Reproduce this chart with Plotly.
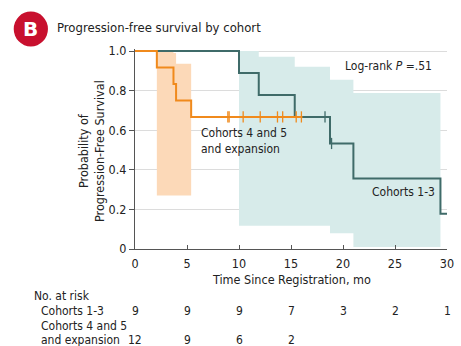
import plotly.graph_objects as go

# ---------------- data ----------------
months = [0, 5, 10, 15, 20, 25, 30]
y_ticks = [0, 0.2, 0.4, 0.6, 0.8, 1.0]
y_tick_labels = ["0", "0.2", "0.4", "0.6", "0.8", "1.0"]

# Cohorts 4 and 5 and expansion (orange)
c45_time = [0, 2.1, 3.7, 3.95, 5.4, 16.1]
c45_surv = [1.0, 0.917, 0.833, 0.75, 0.667, 0.667]
c45_cens_time = [8.93, 9.05, 10.4, 12.04, 13.7, 14.2, 15.5, 16.0]
c45_cens_surv = [0.667] * 8
c45_ci_time = [2.1, 3.7, 3.95, 5.4]
c45_ci_upper = [1.0, 0.99, 0.935, 0.935]
c45_ci_lower = [0.27, 0.27, 0.27, 0.27]

# Cohorts 1-3 (teal)
c13_time = [0, 10.0, 11.9, 15.36, 18.75, 21.0, 29.37, 30]
c13_surv = [1.0, 0.889, 0.778, 0.667, 0.533, 0.356, 0.178, 0.178]
c13_cens_time = [18.27, 18.9]
c13_cens_surv = [0.667, 0.533]
c13_ci_time = [10.0, 11.9, 15.36, 18.75, 21.0, 29.37]
c13_ci_upper = [1.0, 0.971, 0.921, 0.855, 0.788, 0.788]
c13_ci_lower = [0.117, 0.117, 0.117, 0.08, 0.01, 0.01]

risk_c13 = [9, 9, 9, 7, 3, 2, 1]
risk_c45 = [12, 9, 6, 2]

# ---------------- style ----------------
ORANGE = "#f08a1c"
ORANGE_BAND = "#fcd9b8"
TEAL = "#3f6b69"
TEAL_BAND = "#d7ebea"
TXT = "#222222"
FONT = "Liberation Sans Narrow, DejaVu Sans Condensed, Open Sans, sans-serif"

W, H = 461, 346
L, R, T, B = 135, 7, 49, 97
PW, PH = W - L - R, H - T - B


def px(x):
    return (x - L) / PW


def py(y):
    return (H - B - y) / PH


fig = go.Figure()

# confidence bands
fig.add_trace(go.Scatter(x=c13_ci_time, y=c13_ci_lower, mode="lines", line=dict(width=0, shape="hv"),
                         showlegend=False, hoverinfo="skip"))
fig.add_trace(go.Scatter(x=c13_ci_time, y=c13_ci_upper, mode="lines", line=dict(width=0, shape="hv"),
                         fill="tonexty", fillcolor=TEAL_BAND, showlegend=False, hoverinfo="skip"))
fig.add_trace(go.Scatter(x=c45_ci_time, y=c45_ci_lower, mode="lines", line=dict(width=0, shape="hv"),
                         showlegend=False, hoverinfo="skip"))
fig.add_trace(go.Scatter(x=c45_ci_time, y=c45_ci_upper, mode="lines", line=dict(width=0, shape="hv"),
                         fill="tonexty", fillcolor=ORANGE_BAND, showlegend=False, hoverinfo="skip"))

# KM curves
fig.add_trace(go.Scatter(x=c13_time, y=c13_surv, mode="lines", line=dict(color=TEAL, width=2, shape="hv"),
                         showlegend=False))
fig.add_trace(go.Scatter(x=c13_cens_time, y=c13_cens_surv, mode="markers",
                         marker=dict(symbol="line-ns", size=8, line=dict(color=TEAL, width=1.3)),
                         showlegend=False, cliponaxis=False))
fig.add_trace(go.Scatter(x=c45_time, y=c45_surv, mode="lines", line=dict(color=ORANGE, width=2, shape="hv"),
                         showlegend=False))
fig.add_trace(go.Scatter(x=c45_cens_time, y=c45_cens_surv, mode="markers",
                         marker=dict(symbol="line-ns", size=8, line=dict(color=ORANGE, width=1.3)),
                         showlegend=False, cliponaxis=False))

fig.update_xaxes(range=[0, 30], tickvals=months, ticks="inside", ticklen=4, tickcolor="#555",
                 showline=True, linecolor="#555", linewidth=1, showgrid=False, zeroline=False,
                 ticklabelstandoff=3, ticklabeloverflow="allow",
                 tickfont=dict(size=12.5, color=TXT, family=FONT))
fig.update_yaxes(range=[0, 1.0101], tickvals=y_ticks, ticktext=y_tick_labels, ticks="outside", ticklen=5,
                 tickcolor="#555", showline=True, linecolor="#555", linewidth=1, showgrid=True,
                 gridcolor="#dcdcdc", gridwidth=1, zeroline=False, ticklabeloverflow="allow",
                 tickfont=dict(size=12.5, color=TXT, family=FONT))

ann = []


def text(x, y, s, size=12, xanchor="left", xref="paper", angle=0, align="left"):
    ann.append(dict(x=x, y=y, xref=xref, yref="paper", text=s, showarrow=False, xanchor=xanchor,
                    yanchor="middle", textangle=angle, align=align,
                    font=dict(size=size, color=TXT, family=FONT)))


# title
text(px(53), py(27.5), "Progression-free survival by cohort", size=13)
ann.append(dict(x=px(28.5), y=py(29), xref="paper", yref="paper", text="<b>B</b>", showarrow=False,
                xanchor="center", yanchor="middle", font=dict(size=20, color="white", family="DejaVu Sans")))

# axis titles
text(px(294.5), py(279.5), "Time Since Registration, mo", size=12.5, xanchor="center", align="center")
text(px(90), py(151), "Probability of<br>Progression-Free Survival", size=12.5, xanchor="center",
     angle=-90, align="center")

# in-plot labels
text(px(394), py(66), "Log-rank <i>P</i> =.51", size=12, xanchor="center", align="center")
text(px(200), py(141), "Cohorts 4 and 5<br>and expansion", size=12)
text(px(410), py(191.5), "Cohorts 1-3", size=12, xanchor="center", align="center")

# risk table
ROW1, ROW2, ROW3 = 311, 326, 339.5
text(px(30), py(296), "No. at risk", size=12)
text(px(37), py(ROW1), "Cohorts 1-3", size=12)
text(px(37), py(ROW2), "Cohorts 4 and 5", size=12)
text(px(37), py(ROW3), "and expansion", size=12)
for m, v in zip(months, risk_c13):
    ann.append(dict(x=m, y=py(ROW1), xref="x", yref="paper", text=str(v), showarrow=False,
                    xanchor="center", yanchor="middle", font=dict(size=12, color=TXT, family=FONT)))
for m, v in zip(months, risk_c45):
    ann.append(dict(x=m, y=py(ROW3), xref="x", yref="paper", text=str(v), showarrow=False,
                    xanchor="center", yanchor="middle", font=dict(size=12, color=TXT, family=FONT)))

shapes = [dict(type="circle", xref="paper", yref="paper", x0=px(11), x1=px(46), y0=py(11.5), y1=py(46.5),
               fillcolor="#c8102e", line=dict(width=0), layer="above")]

fig.update_layout(width=W, height=H, margin=dict(l=L, r=R, t=T, b=B), plot_bgcolor="white",
                  paper_bgcolor="white", annotations=ann, shapes=shapes, showlegend=False)

fig.write_html("out.html")
